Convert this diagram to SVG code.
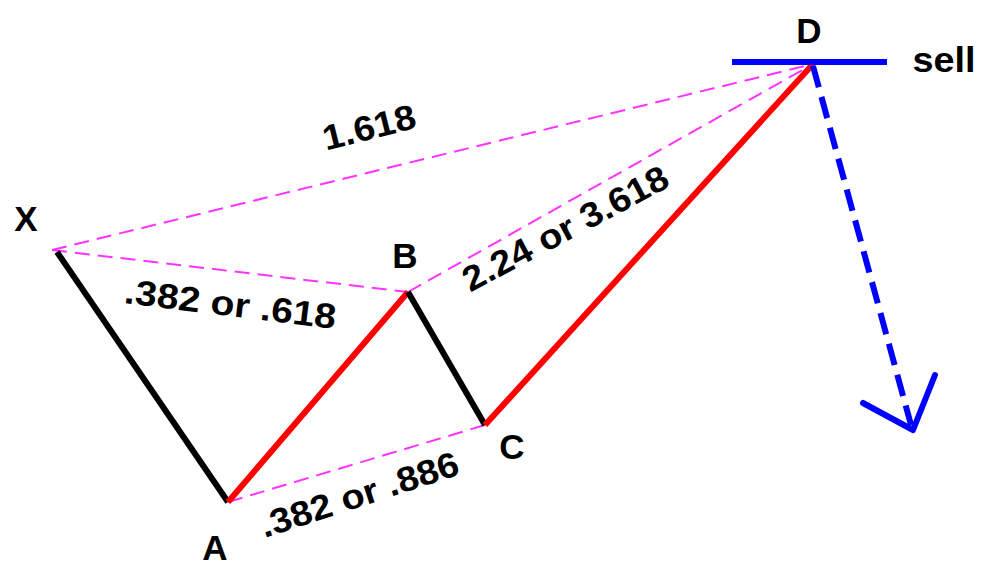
<svg xmlns="http://www.w3.org/2000/svg" width="983" height="563" viewBox="0 0 983 563">
<style>
.bg{fill:#fff}
.fib{stroke:#ff33ff;stroke-width:2;stroke-dasharray:15 8;fill:none}
.blk{stroke:#000;stroke-width:6;fill:none}
.red{stroke:#ff0000;stroke-width:6;fill:none}
.blue{stroke:#0000ff;stroke-width:6;fill:none}
.lbl{font-family:"Liberation Sans",Arial,sans-serif;font-weight:bold;font-size:35px;fill:#000;text-anchor:middle}
.rat{font-family:"Liberation Sans",Arial,sans-serif;font-weight:bold;font-size:35px;fill:#000;text-anchor:middle}
</style>
<rect class="bg" x="0" y="0" width="983" height="563"/>
<g id="connectors">
  <line class="fib" x1="52" y1="250" x2="813" y2="64"/>
  <line class="fib" x1="52" y1="250" x2="408" y2="292"/>
  <line class="fib" x1="408" y1="292" x2="813" y2="64"/>
  <line class="fib" x1="228" y1="502" x2="485" y2="425"/>
  <line class="blk" x1="57" y1="252" x2="228" y2="502"/>
  <line class="red" x1="228" y1="502" x2="408" y2="292"/>
  <line class="blk" x1="408" y1="292" x2="485" y2="425"/>
  <line class="red" x1="485" y1="425" x2="813" y2="64"/>
  <line class="blue" x1="813" y1="66" x2="911" y2="425" stroke-dasharray="22 10"/>
  <polyline class="blue" points="863,403 913,430 935,375" stroke-linejoin="round" stroke-linecap="round"/>
</g>
<g id="node-X"><text class="lbl" x="26" y="231">X</text></g>
<g id="node-A"><text class="lbl" x="215" y="560">A</text></g>
<g id="node-B"><text class="lbl" x="405" y="268">B</text></g>
<g id="node-C"><text class="lbl" x="512" y="459">C</text></g>
<g id="node-D">
  <line class="blue" x1="732" y1="62" x2="887" y2="62" stroke-width="7"/>
  <text class="lbl" x="809" y="43">D</text>
  <text class="lbl" x="944" y="72" textLength="63" lengthAdjust="spacingAndGlyphs">sell</text>
</g>
<g id="ratios">
  <text class="rat" transform="translate(372,139) rotate(-14)" x="0" y="0" textLength="95" lengthAdjust="spacingAndGlyphs">1.618</text>
  <text class="rat" transform="translate(229,316) rotate(7)" x="0" y="0" textLength="213" lengthAdjust="spacingAndGlyphs">.382 or .618</text>
  <text class="rat" transform="translate(571,239) rotate(-28)" x="0" y="0" textLength="228" lengthAdjust="spacingAndGlyphs">2.24 or 3.618</text>
  <text class="rat" transform="translate(363,506) rotate(-18)" x="0" y="0" textLength="207" lengthAdjust="spacingAndGlyphs">.382 or .886</text>
</g>
</svg>
